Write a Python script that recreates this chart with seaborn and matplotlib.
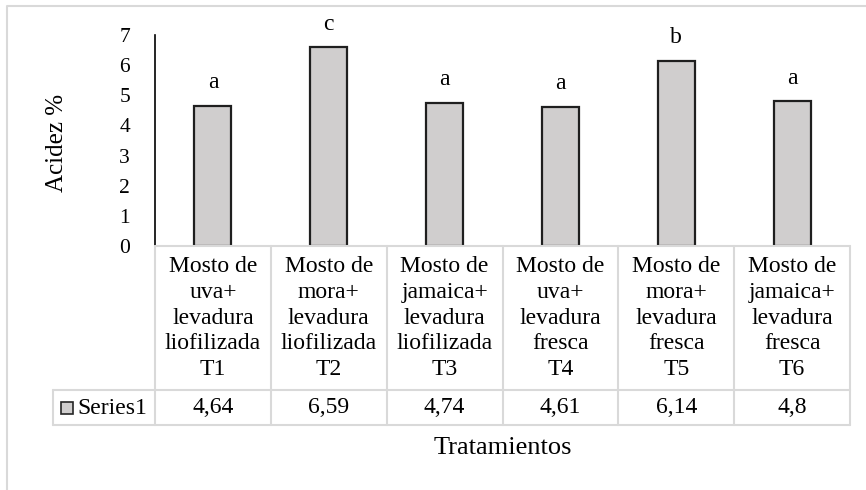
import matplotlib
matplotlib.use("Agg")
import matplotlib.pyplot as plt
from matplotlib.lines import Line2D
from matplotlib.patches import Rectangle
import seaborn as sns
import pandas as pd

# Data
tratamientos = ["T1", "T2", "T3", "T4", "T5", "T6"]
etiquetas = [
    "Mosto de\nuva+\nlevadura\nliofilizada\nT1",
    "Mosto de\nmora+\nlevadura\nliofilizada\nT2",
    "Mosto de\njamaica+\nlevadura\nliofilizada\nT3",
    "Mosto de\nuva+\nlevadura\nfresca\nT4",
    "Mosto de\nmora+\nlevadura\nfresca\nT5",
    "Mosto de\njamaica+\nlevadura\nfresca\nT6",
]
acidez = [4.64, 6.59, 4.74, 4.61, 6.14, 4.8]
valores_txt = ["4,64", "6,59", "4,74", "4,61", "6,14", "4,8"]
letras = ["a", "c", "a", "a", "b", "a"]
serie = "Series1"

W, H = 866, 490
sns.set_theme(style="white")
plt.rcParams["font.family"] = ["Liberation Serif", "DejaVu Serif"]

fig = plt.figure(figsize=(W / 100, H / 100), dpi=100)


def fx(px):
    return px / W


def fy(py):
    return 1 - py / H


# Plot area in pixel coordinates
x0, x1 = 155, 850
y_top, y_bot = 35, 246
ax = fig.add_axes([fx(x0), fy(y_bot), fx(x1) - fx(x0), (y_bot - y_top) / H])

df = pd.DataFrame({"trat": tratamientos, "acidez": acidez})
sns.barplot(data=df, x="trat", y="acidez", color="#d0cece", saturation=1,
            edgecolor="#1f1f1f", linewidth=1.6, width=0.32, ax=ax)

ax.set_ylim(0, 7)
ax.set_xlim(-0.5, len(tratamientos) - 0.5)
ax.set_yticks(range(0, 8))
ax.tick_params(axis="y", length=0, pad=18, labelsize=15.5, labelcolor="#000000")
ax.set_xticks([])
ax.set_xlabel("")
ax.set_ylabel("")
for s in ["top", "right", "bottom"]:
    ax.spines[s].set_visible(False)
ax.spines["left"].set_color("#000000")
ax.spines["left"].set_linewidth(1.2)
ax.patch.set_alpha(0)

for i, (v, l) in enumerate(zip(acidez, letras)):
    ax.text(i, v + 0.42, l, ha="center", va="bottom", fontsize=17, color="#000000")

# Data table beneath the plot
grid = "#d9d9d9"
lw = 1.5
leg_x0 = 53
row_mid, row_bot = 390, 425
col_w = (x1 - x0) / len(tratamientos)


def hline(y, xa, xb):
    fig.add_artist(Line2D([fx(xa), fx(xb)], [fy(y), fy(y)], color=grid, lw=lw,
                          transform=fig.transFigure))


def vline(x, ya, yb):
    fig.add_artist(Line2D([fx(x), fx(x)], [fy(ya), fy(yb)], color=grid, lw=lw,
                          transform=fig.transFigure))


hline(y_bot, x0, x1)
hline(row_mid, leg_x0, x1)
hline(row_bot, leg_x0, x1)
vline(leg_x0, row_mid, row_bot)
for k in range(len(tratamientos) + 1):
    vline(x0 + k * col_w, y_bot, row_bot)

for k, (lab, vt) in enumerate(zip(etiquetas, valores_txt)):
    cx = x0 + (k + 0.5) * col_w
    fig.text(fx(cx), fy((y_bot + row_mid) / 2), lab, ha="center", va="center",
             fontsize=17, linespacing=1.3, color="#000000")
    fig.text(fx(cx), fy((row_mid + row_bot) / 2), vt, ha="center", va="center",
             fontsize=17, color="#000000")

# Legend key in the table
fig.add_artist(Rectangle((fx(61), fy(414)), fx(12), 12 / H, facecolor="#d0cece",
                         edgecolor="#262626", lw=1.2, transform=fig.transFigure))
fig.text(fx(77), fy(408), serie, ha="left", va="center", fontsize=17, color="#000000")

# Axis titles
fig.text(fx(503), fy(448), "Tratamientos", ha="center", va="center", fontsize=19,
         color="#000000")
fig.text(fx(57), fy(143), "Acidez %", ha="center", va="center", rotation=90,
         fontsize=18, color="#000000")

# Chart area border
fig.add_artist(Line2D([fx(7), fx(7), fx(W)], [0, fy(6), fy(6)], color=grid, lw=1.5,
                      transform=fig.transFigure))

fig.savefig("out.png", dpi=100, facecolor="white")
